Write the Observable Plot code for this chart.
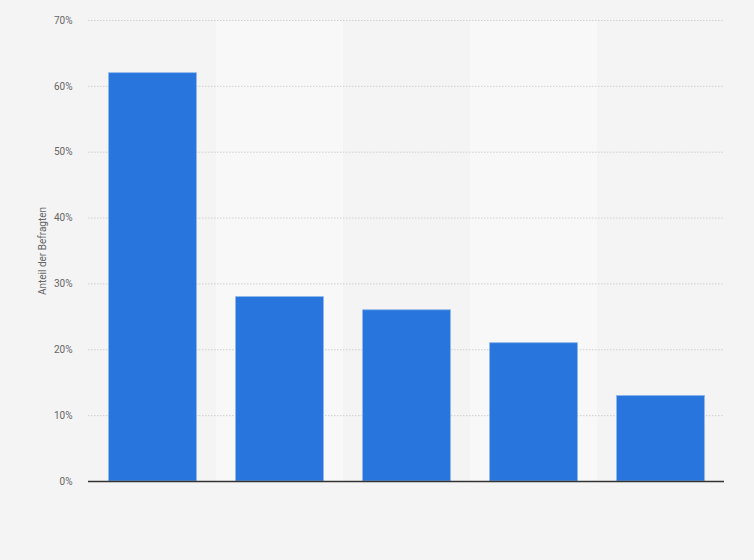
<!DOCTYPE html>
<html><head><meta charset="utf-8">
<script src="https://cdn.jsdelivr.net/npm/d3@7"></script>
<script src="https://cdn.jsdelivr.net/npm/@observablehq/plot@0.6"></script>
<style>
html,body{margin:0;padding:0;background:#f4f4f4;}
#chart svg{display:block;}
</style>
</head><body>
<div id="chart"></div>
<script>
const categories = ["Kategorie 1", "Kategorie 2", "Kategorie 3", "Kategorie 4", "Kategorie 5"];
const values = [62, 28, 26, 21, 13];
const yTicks = [0, 10, 20, 30, 40, 50, 60, 70];

const data = categories.map((c, i) => ({category: c, value: values[i]}));
const shaded = categories.filter((c, i) => i % 2 === 1);

const chart = Plot.plot({
  width: 754,
  height: 560,
  marginTop: 20,
  marginBottom: 79,
  marginLeft: 88,
  marginRight: 30,
  style: {background: "#f4f4f4", fontFamily: "Roboto, 'Liberation Sans', Arial, sans-serif", fontSize: "10px", color: "#666"},
  x: {domain: categories, padding: 0, axis: null},
  y: {domain: [0, 70], ticks: yTicks, tickFormat: d => d + "%", label: "Anteil der Befragten",
      labelAnchor: "center", labelArrow: "none", labelOffset: 50, tickSize: 0, tickPadding: 16},
  marks: [
    Plot.cell(shaded, {x: d => d, fill: "#f8f8f8"}),
    Plot.gridY(yTicks.filter(t => t > 0), {stroke: "#cfcfcf", strokeOpacity: 1, strokeDasharray: "1.5,1.5", strokeWidth: 1}),
    Plot.barY(data, {x: "category", y: "value", fill: "#2876dd", stroke: "#8db6ec", strokeWidth: 0.8, insetLeft: 19.6, insetRight: 19.6}),
    Plot.ruleY([0], {stroke: "#333", strokeWidth: 1.5}),
    Plot.axisY({ticks: yTicks, tickFormat: d => d + "%", tickSize: 0, tickPadding: 16, fill: "#666",
      label: "Anteil der Befragten", labelAnchor: "center", labelArrow: "none", labelOffset: 50})
  ]
});
document.getElementById("chart").appendChild(chart);
</script>
</body></html>
